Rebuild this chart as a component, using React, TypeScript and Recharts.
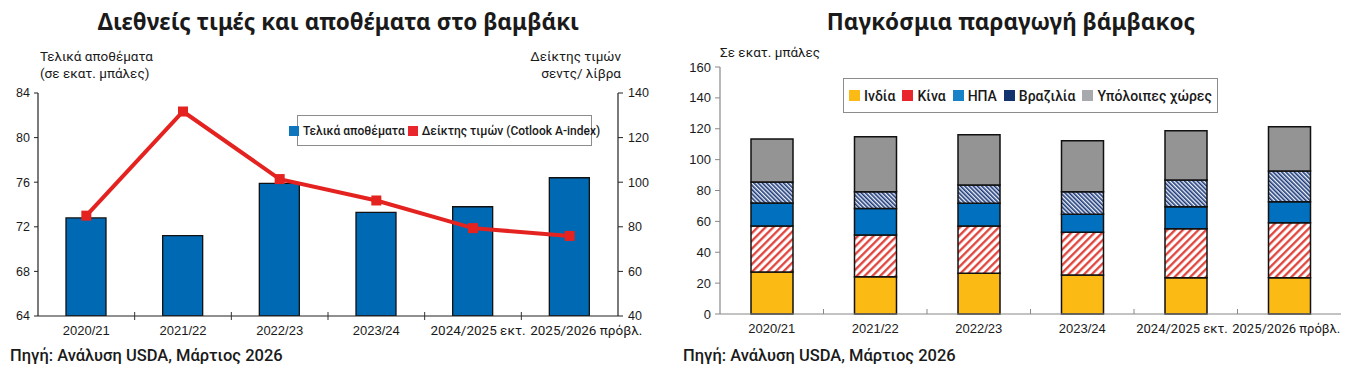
import React from 'react';
import { ComposedChart, BarChart, Bar, Line, XAxis, YAxis, Legend } from 'recharts';

// ---------- data ----------
const categories = ['2020/21', '2021/22', '2022/23', '2023/24', '2024/2025 εκτ.', '2025/2026 πρόβλ.'];
const stocks = [72.8, 71.2, 75.9, 73.3, 73.8, 76.4];
const priceIndex = [85.0, 131.7, 101.4, 91.8, 79.4, 75.9];
const stockTicks = [64, 68, 72, 76, 80, 84];
const priceTicks = [40, 60, 80, 100, 120, 140];

const india = [27.2, 24.2, 26.4, 25.3, 23.5, 23.5];
const china = [29.8, 27.0, 30.6, 27.6, 31.7, 35.6];
const usa = [14.9, 17.2, 14.7, 11.7, 14.3, 13.6];
const brazil = [13.6, 10.8, 11.8, 14.6, 17.3, 19.9];
const rest = [27.8, 35.6, 32.6, 33.0, 31.9, 28.7];
const prodTicks = [0, 20, 40, 60, 80, 100, 120, 140, 160];

const leftData = categories.map((c, i) => ({ cat: c, stocks: stocks[i], price: priceIndex[i] }));
const rightData = categories.map((c, i) => ({
  cat: c, india: india[i], china: china[i], usa: usa[i], brazil: brazil[i], rest: rest[i],
}));

// ---------- styles ----------
const ARIAL = '"Liberation Sans", Arial, sans-serif';
const TITLE = '"Noto Sans", "Open Sans", sans-serif';
const GILL = 'Roboto, "Noto Sans", sans-serif';
const BLUE_BAR = '#0069B4';
const RED = '#E42320';
const YELLOW = '#FCBA14';
const USBLUE = '#0070BF';
const NAVY = '#1B3A78';
const GREY = '#949494';

const leftSeries = [
  { name: 'Τελικά αποθέματα', color: '#0F75BC' },
  { name: 'Δείκτης τιμών (Cotlook A-index)', color: '#E8262B' },
];
const rightSeries = [
  { key: 'india', name: 'Ινδία', color: YELLOW, fill: YELLOW },
  { key: 'china', name: 'Κίνα', color: '#E8262B', fill: 'url(#chinaHatch)' },
  { key: 'usa', name: 'ΗΠΑ', color: '#1682C8', fill: USBLUE },
  { key: 'brazil', name: 'Βραζιλία', color: '#12336E', fill: 'url(#brazilHatch)' },
  { key: 'rest', name: 'Υπόλοιπες χώρες', color: '#A8A9AC', fill: GREY },
];

function LegendBox({ items, fontSize, sq, gap }: any) {
  return (
    <div style={{
      boxSizing: 'border-box', width: '100%', height: '100%', border: '1.5px solid #8c8c8c',
      background: '#fff', display: 'flex', alignItems: 'center', justifyContent: 'center',
      fontFamily: GILL, fontSize, color: '#1a1a1a', whiteSpace: 'nowrap', fontWeight: 500,
    }}>
      {items.map((it: any, i: number) => (
        <span key={i} style={{ display: 'inline-flex', alignItems: 'center', marginRight: i < items.length - 1 ? gap : 0 }}>
          <span style={{ display: 'inline-block', width: sq, height: sq, background: it.color, marginRight: 4 }} />
          {it.name}
        </span>
      ))}
    </div>
  );
}

function makeTick(bw: number, endOff: number, startOff: number, up: number, down: number, lineColor: string, fsLast: number) {
  return (props: any) => {
    const { x, y, payload, index } = props;
    let anchor = 'middle';
    let tx = x;
    let fam = ARIAL;
    let fs = 13;
    if (index === 4) { anchor = 'end'; tx = x + endOff; fam = GILL; fs = fsLast; }
    if (index === 5) { anchor = 'start'; tx = x + startOff; fam = GILL; fs = fsLast; }
    return (
      <g>
        {index > 0 && (
          <line x1={x - bw / 2} x2={x - bw / 2} y1={y - up} y2={y + down} stroke={lineColor} strokeWidth={1} />
        )}
        <text x={tx} y={y + 19} textAnchor={anchor} fontFamily={fam} fontSize={fs} fill="#1a1a1a">
          {payload.value}
        </text>
      </g>
    );
  };
}

const leftTick = makeTick(580 / 6, 52.5, -39.5, 4, 4, '#333', 13.5);
const rightTick = makeTick(621 / 6, 42, -57, 5, 0, '#888', 13);

const SquareDot = (p: any) => (
  <rect key={`dot-${p.index}`} x={p.cx - 5} y={p.cy - 5} width={10} height={10} fill={RED} />
);

const txt = (extra: any): any => ({ position: 'absolute', whiteSpace: 'nowrap', color: '#1a1a1a', ...extra });

export default function App() {
  return (
    <div style={{ position: 'absolute', left: 0, top: 0, width: 1368, height: 392, background: '#fff', overflow: 'hidden' }}>
      {/* Left chart texts */}
      <div style={txt({ left: 0, width: 677, top: 6, textAlign: 'center', fontFamily: TITLE, fontWeight: 700, fontSize: 22.5 })}>
        Διεθνείς τιμές και αποθέματα στο βαμβάκι
      </div>
      <div style={txt({ left: 40, top: 48, fontFamily: GILL, fontSize: 13.5, lineHeight: '17px' })}>
        Τελικά αποθέματα<br />(σε εκατ. μπάλες)
      </div>
      <div style={txt({ right: 1368 - 621, top: 48, fontFamily: GILL, fontSize: 13.5, lineHeight: '17px', textAlign: 'right' })}>
        Δείκτης τιμών<br />σεντς/ λίβρα
      </div>
      <div style={txt({ left: 10, top: 346, fontFamily: GILL, fontWeight: 500, fontSize: 16.5 })}>
        Πηγή: Ανάλυση USDA, Μάρτιος 2026
      </div>

      {/* Right chart texts */}
      <div style={txt({ left: 680, width: 662, top: 6, textAlign: 'center', fontFamily: TITLE, fontWeight: 700, fontSize: 22.5 })}>
        Παγκόσμια παραγωγή βάμβακος
      </div>
      <div style={txt({ left: 720, top: 44, fontFamily: GILL, fontSize: 13.5 })}>Σε εκατ. μπάλες</div>
      <div style={txt({ left: 683, top: 346, fontFamily: GILL, fontWeight: 500, fontSize: 16.5 })}>
        Πηγή: Ανάλυση USDA, Μάρτιος 2026
      </div>

      {/* Left chart */}
      <div style={{ position: 'absolute', left: 0, top: 0 }}>
        <ComposedChart width={680} height={392} data={leftData} margin={{ top: 93, right: 0, bottom: 46, left: 0 }}>
          <XAxis xAxisId="b" dataKey="cat" height={30} interval={0} tickLine={false} tickSize={0} tickMargin={0}
            axisLine={{ stroke: '#222', strokeWidth: 1.2 }} tick={leftTick} />
          <XAxis xAxisId="t" dataKey="cat" orientation="top" height={0} tick={false} tickLine={false}
            axisLine={{ stroke: '#222', strokeWidth: 1.2 }} />
          <YAxis yAxisId="left" width={38} domain={[64, 84]} ticks={stockTicks} interval={0}
            tickSize={4} tickMargin={4} tickLine={{ stroke: '#222' }} axisLine={{ stroke: '#222', strokeWidth: 1.2 }}
            tick={{ fontFamily: ARIAL, fontSize: 12.5, fill: '#1a1a1a' }} allowDataOverflow />
          <YAxis yAxisId="right" orientation="right" width={62} domain={[40, 140]} ticks={priceTicks} interval={0}
            tickSize={5} tickMargin={5} tickLine={{ stroke: '#222' }} axisLine={{ stroke: '#222', strokeWidth: 1.2 }}
            tick={{ fontFamily: ARIAL, fontSize: 12.5, fill: '#1a1a1a', textAnchor: 'start' }} />
          <Bar xAxisId="b" yAxisId="left" dataKey="stocks" name={leftSeries[0].name} fill={BLUE_BAR}
            stroke="#111" strokeWidth={1.3} barSize={40} isAnimationActive={false} />
          <Line xAxisId="b" yAxisId="right" dataKey="price" name={leftSeries[1].name} stroke={RED}
            strokeWidth={4} dot={SquareDot} activeDot={false} isAnimationActive={false} />
          <Legend layout="horizontal" verticalAlign="middle" align="center"
            wrapperStyle={{ position: 'absolute', left: 297, top: 115, width: 295, height: 31, bottom: 'auto', right: 'auto' }}
            content={() => <LegendBox items={leftSeries} fontSize={12} sq={10} gap={3} />} />
        </ComposedChart>
      </div>

      {/* Right chart */}
      <div style={{ position: 'absolute', left: 680, top: 0 }}>
        <BarChart width={688} height={392} data={rightData} margin={{ top: 67, right: 27, bottom: 48, left: 0 }}>
          <defs>
            <pattern id="chinaHatch" patternUnits="userSpaceOnUse" width="5.5" height="5.5" patternTransform="rotate(45)">
              <rect x="0" y="0" width="5.5" height="5.5" fill="#fff" />
              <line x1="1.2" y1="0" x2="1.2" y2="5.5" stroke="#DF3B34" strokeWidth="2.2" />
            </pattern>
            <pattern id="brazilHatch" patternUnits="userSpaceOnUse" width="3" height="3" patternTransform="rotate(-45)">
              <rect x="0" y="0" width="3" height="3" fill="#EEF0F8" />
              <line x1="0.8" y1="0" x2="0.8" y2="3" stroke={NAVY} strokeWidth="1.6" />
            </pattern>
          </defs>
          <XAxis xAxisId="b" dataKey="cat" height={30} interval={0} tickLine={false} tickSize={0} tickMargin={0}
            axisLine={{ stroke: '#888', strokeWidth: 1.2 }} tick={rightTick} />
          <XAxis xAxisId="t" dataKey="cat" orientation="top" height={0} tick={false} tickLine={false}
            axisLine={{ stroke: '#999', strokeWidth: 1.2 }} />
          <YAxis yAxisId="l" width={40} domain={[0, 160]} ticks={prodTicks} interval={0}
            tickSize={5} tickMargin={4} tickLine={{ stroke: '#888' }} axisLine={{ stroke: '#888', strokeWidth: 1.2 }}
            tick={{ fontFamily: ARIAL, fontSize: 13, fill: '#1a1a1a' }} />
          <YAxis yAxisId="r" orientation="right" width={0} domain={[0, 160]} tick={false} tickLine={false}
            axisLine={{ stroke: '#999', strokeWidth: 1.2 }} />
          {rightSeries.map((s) => (
            <Bar key={s.key} xAxisId="b" yAxisId="l" dataKey={s.key} name={s.name} stackId="p" fill={s.fill}
              stroke="#111" strokeWidth={1.5} barSize={42} isAnimationActive={false} />
          ))}
          <Legend layout="horizontal" verticalAlign="middle" align="center"
            wrapperStyle={{ position: 'absolute', left: 163, top: 78, width: 375, height: 35, bottom: 'auto', right: 'auto' }}
            content={() => <LegendBox items={rightSeries} fontSize={14} sq={11} gap={7} />} />
        </BarChart>
      </div>
    </div>
  );
}
